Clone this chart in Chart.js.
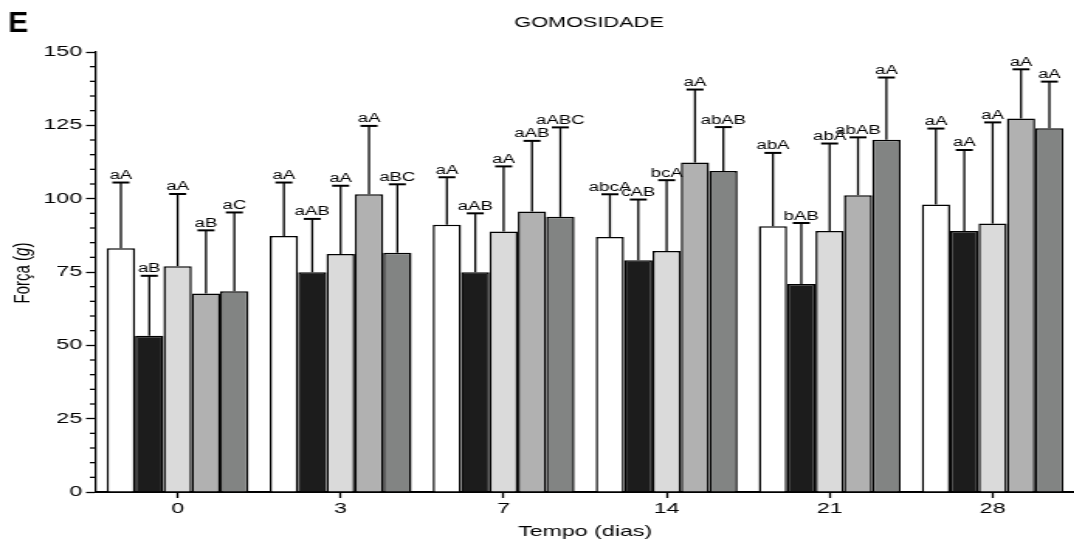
<!DOCTYPE html>
<html>
<head>
<meta charset="utf-8">
<script src="https://cdn.jsdelivr.net/npm/chart.js@4"></script>
<style>
  html, body { margin: 0; padding: 0; background: #fff; overflow: hidden; }
  #wrap { position: absolute; left: 0; top: 0; width: 693px; height: 544px;
          transform: scaleX(1.55); transform-origin: 0 0; }
</style>
</head>
<body>
<div id="wrap"><canvas id="myChart"></canvas></div>
<script>
// the original figure is stretched horizontally, so the canvas is too
const S = 1.55;
const FONT = '"Liberation Sans", Arial, sans-serif';

const dias = ['0', '3', '7', '14', '21', '28'];
const yTicks = [0, 25, 50, 75, 100, 125, 150];

const media1 = [83.1, 87.3, 91.1, 86.9, 90.6, 98.0];
const media2 = [53.3, 74.9, 74.9, 79.0, 70.9, 89.0];
const media3 = [77.0, 81.1, 88.8, 82.2, 89.0, 91.5];
const media4 = [67.7, 101.5, 95.6, 112.3, 101.2, 127.3];
const media5 = [68.4, 81.6, 93.8, 109.4, 120.1, 124.0];

const dp1 = [22.4, 18.2, 16.2, 14.6, 25.0, 25.9];
const dp2 = [20.4, 18.2, 20.1, 20.7, 20.8, 27.6];
const dp3 = [24.6, 23.3, 22.2, 24.1, 29.8, 34.5];
const dp4 = [21.5, 23.3, 24.1, 24.9, 19.7, 16.8];
const dp5 = [26.9, 23.3, 30.5, 15.0, 21.2, 15.9];

const letras1 = ['aA', 'aA', 'aA', 'abcA', 'abA', 'aA'];
const letras2 = ['aB', 'aAB', 'aAB', 'cAB', 'bAB', 'aA'];
const letras3 = ['aA', 'aA', 'aA', 'bcA', 'abA', 'aA'];
const letras4 = ['aB', 'aA', 'aAB', 'aA', 'abAB', 'aA'];
const letras5 = ['aC', 'aBC', 'aABC', 'abAB', 'aA', 'aA'];

const cores = ['#ffffff', '#1c1c1c', '#dadada', '#b1b1b1', '#828483'];

function serie(nome, media, dp, letras, cor) {
    return {
        label: nome,
        data: media,
        desvio: dp,
        letras: letras,
        backgroundColor: cor,
        borderColor: '#000',
        borderWidth: 1.5,
        barPercentage: 1.0,
        categoryPercentage: 0.87
    };
}

// error bars (upper only) + letters
const errorBars = {
    id: 'errorBars',
    afterDatasetsDraw(chart) {
        const ctx = chart.ctx;
        const y = chart.scales.y;
        ctx.save();
        ctx.strokeStyle = '#000';
        ctx.fillStyle = '#000';
        ctx.font = '12px ' + FONT;
        ctx.textAlign = 'center';
        ctx.textBaseline = 'alphabetic';
        chart.data.datasets.forEach(function(ds, i) {
            chart.getDatasetMeta(i).data.forEach(function(bar, j) {
                const top = y.getPixelForValue(ds.data[j] + ds.desvio[j]);
                ctx.lineWidth = 1.3;
                ctx.beginPath();
                ctx.moveTo(bar.x, bar.y);
                ctx.lineTo(bar.x, top);
                ctx.stroke();
                ctx.lineWidth = 2;
                ctx.beginPath();
                ctx.moveTo(bar.x - 5.5, top);
                ctx.lineTo(bar.x + 5.5, top);
                ctx.stroke();
                ctx.fillText(ds.letras[j], bar.x, top - 3.5);
            });
        });
        ctx.restore();
    }
};

// minor ticks, y title with italic g, title and panel letter
const extras = {
    id: 'extras',
    afterDraw(chart) {
        const ctx = chart.ctx;
        const y = chart.scales.y;
        const area = chart.chartArea;
        ctx.save();
        ctx.strokeStyle = '#000';
        ctx.lineWidth = 1.3;
        for (let v = 5; v < 150; v += 5) {
            if (v % 25 === 0) continue;
            const py = y.getPixelForValue(v);
            ctx.beginPath();
            ctx.moveTo(area.left - 4, py);
            ctx.lineTo(area.left, py);
            ctx.stroke();
        }

        ctx.fillStyle = '#000';
        ctx.textBaseline = 'middle';
        ctx.font = '14px ' + FONT;
        ctx.textAlign = 'center';
        ctx.fillText('GOMOSIDADE', 380, 23);

        // y axis title
        ctx.save();
        ctx.translate(14.5, 273);
        ctx.rotate(-Math.PI / 2);
        const f1 = '15px ' + FONT, f2 = 'italic 15px ' + FONT;
        ctx.font = f1;
        const w1 = ctx.measureText('Força (').width;
        const w3 = ctx.measureText(')').width;
        ctx.font = f2;
        const w2 = ctx.measureText('g').width;
        let x0 = -(w1 + w2 + w3) / 2;
        ctx.textAlign = 'left';
        ctx.font = f1;
        ctx.fillText('Força (', x0, 0);
        ctx.font = f2;
        ctx.fillText('g', x0 + w1, 0);
        ctx.font = f1;
        ctx.fillText(')', x0 + w1 + w2, 0);
        ctx.restore();

        // panel letter, not stretched
        ctx.save();
        ctx.scale(1 / S, 1);
        ctx.textAlign = 'left';
        ctx.textBaseline = 'alphabetic';
        ctx.font = 'bold 30px ' + FONT;
        ctx.fillText('E', 8, 32);
        ctx.restore();
        ctx.restore();
    }
};

const ctx = document.getElementById('myChart').getContext('2d');
new Chart(ctx, {
    type: 'bar',
    data: {
        labels: dias,
        datasets: [
            serie('Tratamento 1', media1, dp1, letras1, cores[0]),
            serie('Tratamento 2', media2, dp2, letras2, cores[1]),
            serie('Tratamento 3', media3, dp3, letras3, cores[2]),
            serie('Tratamento 4', media4, dp4, letras4, cores[3]),
            serie('Tratamento 5', media5, dp5, letras5, cores[4])
        ]
    },
    options: {
        responsive: true,
        maintainAspectRatio: false,
        animation: false,
        layout: { padding: { top: 52, left: 0, right: 0, bottom: 0 } },
        plugins: {
            legend: { display: false },
            tooltip: { enabled: true }
        },
        scales: {
            x: {
                afterFit: function(scale) { scale.height = 52; },
                border: { color: '#000', width: 2 },
                grid: {
                    offset: false,
                    drawOnChartArea: false,
                    tickLength: 6,
                    tickColor: '#000',
                    tickWidth: 1.3
                },
                ticks: {
                    padding: 2,
                    color: '#000',
                    font: { family: FONT, size: 15 }
                },
                title: {
                    display: true,
                    text: 'Tempo (dias)',
                    color: '#000',
                    font: { family: FONT, size: 15 },
                    padding: { top: 0, bottom: 3 }
                }
            },
            y: {
                min: 0,
                max: 150,
                afterFit: function(scale) { scale.width = 62; },
                afterBuildTicks: function(scale) {
                    scale.ticks = yTicks.map(function(v) { return { value: v }; });
                },
                border: { color: '#000', width: 1.3 },
                grid: {
                    drawOnChartArea: false,
                    tickLength: 6.5,
                    tickColor: '#000',
                    tickWidth: 1.3
                },
                ticks: {
                    padding: 2.5,
                    color: '#000',
                    font: { family: FONT, size: 15 }
                }
            }
        }
    },
    plugins: [errorBars, extras]
});
</script>
</body>
</html>
